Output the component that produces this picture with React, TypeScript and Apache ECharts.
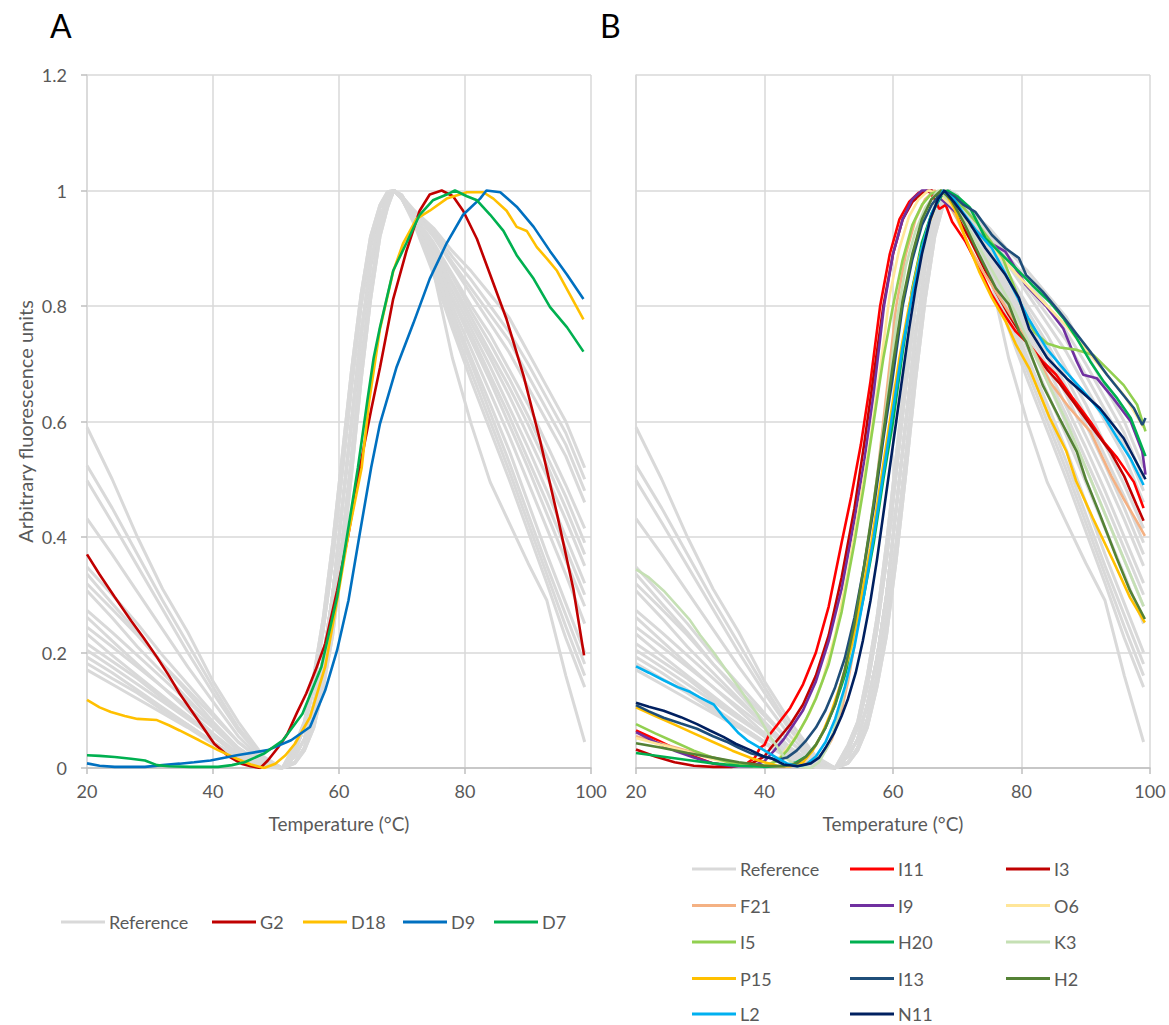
import React, { useEffect, useRef } from 'react';
import * as echarts from 'echarts';

// ---------- DATA ----------
// Shared temperature grid for the grey reference curves (°C)
const REF_X = [20, 24, 28, 32, 36, 40, 44, 48, 51, 53, 54.5, 56, 57.5, 59, 60.5, 62, 63.5, 65, 66.5, 67.7, 68.7, 70, 72, 75, 78, 81, 84, 87, 90, 93, 96, 99];

const REF_1 = [0.59, 0.5, 0.4, 0.31, 0.235, 0.15, 0.08, 0.02, 0, 0.02, 0.05, 0.11, 0.19, 0.3, 0.45, 0.6, 0.75, 0.87, 0.95, 0.99, 1, 0.99, 0.95, 0.89, 0.825, 0.76, 0.695, 0.625, 0.555, 0.48, 0.4, 0.32];
const REF_2 = [0.524, 0.45, 0.37, 0.29, 0.215, 0.14, 0.07, 0.018, 0, 0.01, 0.035, 0.085, 0.16, 0.26, 0.39, 0.54, 0.7, 0.83, 0.93, 0.975, 1, 0.99, 0.955, 0.91, 0.855, 0.8, 0.75, 0.69, 0.63, 0.56, 0.49, 0.415];
const REF_3 = [0.498, 0.425, 0.35, 0.275, 0.2, 0.13, 0.065, 0.015, 0, 0.03, 0.07, 0.14, 0.24, 0.36, 0.51, 0.66, 0.8, 0.9, 0.97, 0.995, 1, 0.985, 0.945, 0.87, 0.79, 0.71, 0.63, 0.55, 0.46, 0.37, 0.285, 0.2];
const REF_4 = [0.432, 0.37, 0.305, 0.24, 0.175, 0.115, 0.055, 0.012, 0, 0.02, 0.05, 0.11, 0.19, 0.3, 0.45, 0.6, 0.75, 0.87, 0.95, 0.99, 1, 0.99, 0.96, 0.93, 0.885, 0.845, 0.8, 0.755, 0.7, 0.64, 0.58, 0.5];
const REF_5 = [0.348, 0.3, 0.25, 0.195, 0.145, 0.095, 0.045, 0.01, 0, 0.008, 0.03, 0.07, 0.14, 0.23, 0.36, 0.51, 0.67, 0.81, 0.92, 0.97, 1, 0.992, 0.95, 0.88, 0.81, 0.74, 0.67, 0.595, 0.52, 0.44, 0.36, 0.28];
const REF_6 = [0.336, 0.285, 0.235, 0.18, 0.13, 0.08, 0.035, 0.005, 0, 0.04, 0.08, 0.16, 0.26, 0.39, 0.54, 0.69, 0.82, 0.92, 0.975, 0.998, 1, 0.985, 0.955, 0.86, 0.71, 0.595, 0.495, 0.425, 0.355, 0.29, 0.16, 0.045];
const REF_7 = [0.319, 0.275, 0.23, 0.18, 0.135, 0.09, 0.045, 0.01, 0, 0.02, 0.05, 0.11, 0.19, 0.3, 0.45, 0.6, 0.75, 0.87, 0.95, 0.99, 1, 0.99, 0.955, 0.9, 0.84, 0.78, 0.72, 0.66, 0.595, 0.525, 0.45, 0.37];
const REF_8 = [0.307, 0.26, 0.21, 0.165, 0.12, 0.075, 0.03, 0.004, 0, 0.01, 0.035, 0.085, 0.16, 0.26, 0.39, 0.54, 0.7, 0.83, 0.93, 0.975, 1, 0.99, 0.965, 0.935, 0.895, 0.86, 0.82, 0.78, 0.72, 0.66, 0.6, 0.52];
const REF_9 = [0.273, 0.235, 0.195, 0.155, 0.115, 0.075, 0.035, 0.006, 0, 0.03, 0.07, 0.14, 0.24, 0.36, 0.51, 0.66, 0.8, 0.9, 0.97, 0.995, 1, 0.985, 0.945, 0.86, 0.77, 0.685, 0.6, 0.515, 0.425, 0.335, 0.245, 0.16];
const REF_10 = [0.261, 0.22, 0.18, 0.14, 0.1, 0.06, 0.025, 0.003, 0, 0.02, 0.05, 0.11, 0.19, 0.3, 0.45, 0.6, 0.75, 0.87, 0.95, 0.99, 1, 0.99, 0.96, 0.92, 0.87, 0.82, 0.77, 0.72, 0.66, 0.6, 0.54, 0.46];
const REF_11 = [0.244, 0.21, 0.175, 0.14, 0.105, 0.07, 0.03, 0.004, 0, 0.008, 0.03, 0.07, 0.14, 0.23, 0.36, 0.51, 0.67, 0.81, 0.92, 0.97, 1, 0.992, 0.95, 0.885, 0.815, 0.75, 0.68, 0.61, 0.535, 0.46, 0.38, 0.3];
const REF_12 = [0.232, 0.195, 0.16, 0.125, 0.09, 0.055, 0.022, 0.002, 0, 0.03, 0.07, 0.14, 0.24, 0.36, 0.51, 0.66, 0.8, 0.9, 0.97, 0.995, 1, 0.985, 0.945, 0.865, 0.78, 0.7, 0.615, 0.53, 0.44, 0.35, 0.265, 0.18];
const REF_13 = [0.215, 0.185, 0.155, 0.12, 0.09, 0.055, 0.02, 0.002, 0, 0.02, 0.05, 0.11, 0.19, 0.3, 0.45, 0.6, 0.75, 0.87, 0.95, 0.99, 1, 0.99, 0.955, 0.905, 0.85, 0.79, 0.735, 0.675, 0.61, 0.54, 0.47, 0.39];
const REF_14 = [0.204, 0.175, 0.145, 0.115, 0.085, 0.055, 0.025, 0.003, 0, 0.01, 0.035, 0.085, 0.16, 0.26, 0.39, 0.54, 0.7, 0.83, 0.93, 0.975, 1, 0.99, 0.95, 0.875, 0.8, 0.725, 0.65, 0.575, 0.495, 0.415, 0.335, 0.25];
const REF_15 = [0.192, 0.165, 0.135, 0.105, 0.075, 0.045, 0.018, 0.002, 0, 0.04, 0.08, 0.16, 0.26, 0.39, 0.54, 0.69, 0.82, 0.92, 0.975, 0.998, 1, 0.985, 0.94, 0.855, 0.76, 0.67, 0.585, 0.5, 0.41, 0.32, 0.225, 0.14];
const REF_16 = [0.181, 0.155, 0.13, 0.1, 0.075, 0.045, 0.015, 0.001, 0, 0.02, 0.05, 0.11, 0.19, 0.3, 0.45, 0.6, 0.75, 0.87, 0.95, 0.99, 1, 0.99, 0.96, 0.925, 0.875, 0.83, 0.785, 0.74, 0.68, 0.62, 0.56, 0.48];
const REF_17 = [0.17, 0.145, 0.12, 0.095, 0.07, 0.042, 0.015, 0.001, 0, 0.01, 0.035, 0.085, 0.16, 0.26, 0.39, 0.54, 0.7, 0.83, 0.93, 0.975, 1, 0.99, 0.95, 0.895, 0.835, 0.77, 0.71, 0.645, 0.575, 0.505, 0.43, 0.35];

const REF_CURVES = [REF_1, REF_2, REF_3, REF_4, REF_5, REF_6, REF_7, REF_8, REF_9, REF_10, REF_11, REF_12, REF_13, REF_14, REF_15, REF_16, REF_17];

// Panel A samples [temperature, fluorescence]
const A_G2 = [[20, 0.37], [22, 0.335], [24.4, 0.296], [27, 0.255], [29, 0.225], [31.1, 0.192], [33, 0.16], [34.7, 0.129], [37.5, 0.085], [40.2, 0.042], [42.5, 0.02], [44.5, 0.0075], [46, 0.003], [47.5, 0], [48.7, 0.013], [50.3, 0.035], [51.8, 0.059], [53.3, 0.095], [54.8, 0.129], [56.3, 0.17], [57.8, 0.215], [59.7, 0.307], [61.5, 0.405], [63.3, 0.52], [65.1, 0.62], [66.5, 0.693], [68.6, 0.812], [70.7, 0.895], [72.8, 0.965], [74.4, 0.993], [76.3, 1], [78.1, 0.99], [79.7, 0.965], [81.9, 0.916], [84, 0.854], [86.6, 0.777], [89.3, 0.679], [91.9, 0.568], [94.6, 0.44], [97.2, 0.31], [98.9, 0.195]];
const A_D18 = [[20, 0.118], [22, 0.105], [23.8, 0.097], [26, 0.09], [28, 0.085], [31.1, 0.083], [33, 0.074], [34.7, 0.065], [37.8, 0.048], [40.8, 0.031], [43.8, 0.016], [46, 0.006], [48.1, 0], [49.9, 0.0075], [51.5, 0.022], [53, 0.042], [55.4, 0.088], [57.8, 0.175], [59.7, 0.29], [61.5, 0.405], [63.6, 0.52], [64.8, 0.636], [66.5, 0.76], [68.6, 0.86], [70.2, 0.909], [72.3, 0.951], [74.4, 0.965], [77.1, 0.986], [80.3, 0.997], [82.9, 0.997], [84.5, 0.986], [86.6, 0.965], [88.2, 0.937], [89.8, 0.93], [91.4, 0.902], [93, 0.882], [94.6, 0.861], [96.7, 0.819], [98.8, 0.777]];
const A_D9 = [[20, 0.008], [22, 0.004], [24.4, 0.002], [29.2, 0.002], [32, 0.005], [34.7, 0.0075], [37, 0.01], [39.6, 0.013], [43.8, 0.022], [48.7, 0.031], [52.4, 0.048], [55.4, 0.071], [57.8, 0.134], [59.7, 0.204], [61.5, 0.29], [63.3, 0.406], [65.1, 0.52], [66.5, 0.596], [69.1, 0.693], [71.8, 0.77], [74.4, 0.847], [77.1, 0.909], [79.7, 0.958], [82.4, 0.986], [83.4, 1], [85.6, 0.997], [88.2, 0.972], [90.9, 0.937], [93.5, 0.895], [96.2, 0.854], [98.8, 0.812]];
const A_D7 = [[20, 0.022], [22, 0.021], [24.4, 0.019], [27, 0.016], [29.2, 0.013], [31.1, 0.005], [33, 0.003], [36.5, 0.002], [40.8, 0.002], [43, 0.005], [45, 0.01], [48.1, 0.025], [51.1, 0.048], [54.2, 0.094], [57.2, 0.175], [59.7, 0.296], [61.5, 0.417], [63, 0.52], [64.5, 0.636], [65.5, 0.71], [66.5, 0.763], [68.6, 0.861], [70.7, 0.909], [72.8, 0.958], [74.9, 0.983], [77.1, 0.993], [78.4, 1], [80.3, 0.99], [81.9, 0.983], [84, 0.958], [86.1, 0.93], [88.2, 0.888], [90.9, 0.847], [93.5, 0.798], [96.2, 0.763], [98.8, 0.721]];

// Panel B samples
const B_I11 = [[20, 0.065], [23, 0.05], [26, 0.034], [29, 0.02], [32, 0.008], [35, 0.003], [37, 0.006], [38.5, 0.018], [39.3, 0.035], [40, 0.04], [40.6, 0.055], [42, 0.075], [44, 0.104], [46, 0.145], [48, 0.2], [50, 0.28], [52, 0.39], [53.5, 0.47], [55, 0.56], [56.5, 0.67], [58, 0.8], [59.5, 0.89], [61, 0.95], [62.5, 0.98], [64, 0.996], [65.5, 1], [66.5, 0.985], [67.2, 0.968], [68.2, 0.975], [69.2, 0.946], [71.3, 0.911], [73.4, 0.866], [75.4, 0.819], [77, 0.79], [79.1, 0.756], [81.2, 0.733], [83.3, 0.704], [85.4, 0.681], [88, 0.64], [90.7, 0.6], [92.8, 0.565], [94.9, 0.537], [97.5, 0.495], [99, 0.45]];
const B_I3 = [[20, 0.032], [23, 0.02], [26, 0.01], [29, 0.004], [32, 0.002], [35, 0.002], [38, 0.008], [40, 0.02], [41, 0.035], [42.5, 0.055], [44, 0.075], [46, 0.11], [48, 0.16], [50, 0.23], [52, 0.33], [54, 0.45], [55.5, 0.56], [57, 0.68], [58.5, 0.8], [60, 0.89], [61.5, 0.95], [63, 0.98], [64.5, 0.995], [66, 1], [68, 0.99], [70, 0.955], [72, 0.915], [74, 0.87], [76, 0.825], [78, 0.785], [80, 0.75], [82, 0.72], [84, 0.69], [86, 0.665], [88, 0.635], [90, 0.605], [92, 0.575], [94, 0.545], [96, 0.505], [97.9, 0.456], [99, 0.428]];
const B_F21 = [[20, 0.055], [24, 0.042], [28, 0.03], [32, 0.018], [36, 0.008], [40, 0.003], [43, 0.002], [46, 0.006], [48, 0.015], [49.5, 0.03], [50.5, 0.05], [52, 0.1], [53, 0.15], [53.8, 0.2], [55, 0.29], [56.3, 0.4], [57.5, 0.5], [58.5, 0.6], [59.5, 0.7], [60.5, 0.8], [62, 0.89], [63.5, 0.95], [65, 0.985], [66.5, 1], [68, 0.99], [70, 0.95], [72, 0.9], [74, 0.86], [76, 0.825], [78, 0.79], [80, 0.755], [82, 0.72], [84.4, 0.669], [87.5, 0.623], [90.7, 0.583], [92.5, 0.54], [94, 0.505], [95.8, 0.468], [97.9, 0.428], [99.2, 0.402]];
const B_I9 = [[20, 0.062], [23, 0.045], [26, 0.03], [29, 0.018], [32, 0.008], [35, 0.003], [38, 0.003], [40, 0.012], [41.5, 0.03], [43, 0.05], [44.5, 0.075], [46, 0.1], [48, 0.15], [50, 0.22], [52, 0.31], [54, 0.43], [55.5, 0.53], [57, 0.65], [58.6, 0.8], [60, 0.89], [61.5, 0.95], [63, 0.985], [64.5, 1], [65.5, 1], [67, 0.99], [69, 0.97], [71, 0.95], [73, 0.93], [75, 0.91], [77.5, 0.894], [80.7, 0.836], [83.8, 0.8], [86.5, 0.761], [88.6, 0.704], [89.6, 0.681], [91.7, 0.675], [94.3, 0.64], [97, 0.6], [98.8, 0.548], [99.3, 0.508]];
const B_O6 = [[20, 0.052], [24, 0.04], [28, 0.028], [32, 0.015], [36, 0.006], [39, 0.003], [41, 0.008], [42.5, 0.02], [44, 0.04], [45.5, 0.065], [47, 0.095], [49, 0.15], [51, 0.23], [53, 0.34], [55, 0.47], [56.5, 0.57], [58, 0.69], [59.5, 0.82], [61, 0.9], [62.5, 0.955], [64, 0.985], [65.5, 1], [67, 0.995], [69, 0.975], [71, 0.95], [73, 0.93], [75, 0.905], [78, 0.87], [81, 0.835], [84, 0.8], [87, 0.765], [90, 0.725], [93, 0.685], [96, 0.645], [99, 0.59]];
const B_I5 = [[20, 0.076], [23, 0.06], [26, 0.045], [29, 0.03], [32, 0.018], [35, 0.008], [38, 0.003], [40, 0.004], [42, 0.012], [43.5, 0.03], [45, 0.055], [46.5, 0.085], [48, 0.12], [50, 0.18], [52, 0.27], [54, 0.39], [55.5, 0.49], [57, 0.6], [58.5, 0.71], [60, 0.8], [61.5, 0.88], [63, 0.94], [64.5, 0.975], [66, 0.995], [67.5, 1], [69, 0.99], [71, 0.97], [73, 0.945], [75, 0.915], [77, 0.885], [79, 0.83], [80.5, 0.785], [82, 0.755], [84, 0.735], [86, 0.728], [88.6, 0.724], [91.2, 0.715], [93.3, 0.692], [95.9, 0.663], [98, 0.629], [99.3, 0.583]];
const B_H20 = [[20, 0.026], [24, 0.02], [28, 0.014], [32, 0.008], [36, 0.004], [40, 0.002], [43, 0.004], [45, 0.01], [46.5, 0.02], [48, 0.04], [49.5, 0.07], [51, 0.11], [52.5, 0.16], [54, 0.22], [55.5, 0.3], [57, 0.39], [58.5, 0.5], [60, 0.6], [61.5, 0.72], [63, 0.83], [64.5, 0.91], [66, 0.96], [67.5, 0.99], [68.5, 1], [70, 0.99], [72, 0.97], [74.4, 0.917], [77.5, 0.883], [79.6, 0.86], [81.7, 0.836], [84.4, 0.807], [86.5, 0.779], [88.6, 0.744], [90.7, 0.704], [92.8, 0.669], [94.9, 0.64], [97, 0.606], [99.3, 0.54]];
const B_K3 = [[20, 0.344], [22, 0.33], [24.3, 0.307], [26.5, 0.28], [28.4, 0.256], [30, 0.23], [32.1, 0.2], [34, 0.17], [35.7, 0.144], [37.5, 0.115], [38.9, 0.093], [40.9, 0.054], [43, 0.02], [45.1, 0.003], [47.2, 0], [48.5, 0.01], [50, 0.04], [51.5, 0.09], [53, 0.16], [54.5, 0.26], [56, 0.38], [57.5, 0.5], [59, 0.63], [60.5, 0.77], [62, 0.87], [63.5, 0.93], [65, 0.97], [67, 1], [69, 0.98], [71, 0.95], [73, 0.91], [75, 0.87], [77, 0.83], [79, 0.79], [81, 0.74], [84, 0.67], [87, 0.6], [90, 0.52], [93, 0.44], [96, 0.36], [99, 0.28]];
const B_P15 = [[20, 0.105], [23, 0.09], [26, 0.075], [29, 0.06], [32, 0.045], [35, 0.03], [38, 0.017], [40, 0.01], [42, 0.004], [44, 0.003], [46, 0.01], [47.5, 0.03], [49, 0.06], [50.5, 0.1], [52, 0.15], [53.5, 0.21], [55, 0.29], [56.5, 0.38], [58, 0.49], [59.5, 0.6], [61, 0.71], [62.5, 0.8], [64, 0.88], [65.5, 0.94], [67, 0.985], [68, 1], [69.5, 0.97], [71.3, 0.917], [73.4, 0.86], [75.4, 0.814], [77.5, 0.774], [79.1, 0.734], [81.2, 0.692], [84.4, 0.606], [87, 0.548], [88.5, 0.497], [91.1, 0.433], [94.3, 0.358], [96.9, 0.295], [99.2, 0.252]];
const B_I13 = [[20, 0.109], [22, 0.098], [24.3, 0.087], [27, 0.077], [29.5, 0.068], [32, 0.055], [34, 0.046], [36, 0.035], [38, 0.025], [40, 0.02], [42, 0.014], [43.5, 0.018], [45, 0.03], [46.5, 0.048], [48, 0.07], [49.5, 0.1], [51, 0.14], [52.5, 0.19], [54, 0.26], [55.5, 0.35], [57, 0.45], [58.5, 0.57], [60, 0.68], [61.5, 0.8], [63, 0.88], [64.5, 0.94], [66, 0.975], [67.8, 1], [69.5, 0.99], [71, 0.975], [72.8, 0.963], [75.4, 0.923], [77.5, 0.9], [79.6, 0.883], [80.7, 0.854], [83.3, 0.825], [85.9, 0.79], [87.5, 0.767], [90.7, 0.721], [93.3, 0.681], [95.4, 0.652], [97.5, 0.623], [98.8, 0.594], [99.3, 0.606]];
const B_H2 = [[20, 0.043], [24, 0.035], [28, 0.026], [32, 0.018], [36, 0.01], [40, 0.004], [43, 0.003], [45, 0.008], [46.5, 0.02], [48, 0.04], [49.5, 0.07], [51, 0.11], [52.5, 0.17], [54, 0.25], [55.5, 0.35], [57, 0.46], [58.5, 0.58], [60, 0.7], [61.5, 0.81], [63, 0.89], [64.5, 0.95], [66, 0.985], [67.5, 1], [69, 0.985], [71, 0.945], [73.4, 0.889], [76, 0.831], [78, 0.803], [79.6, 0.757], [80.7, 0.738], [83.3, 0.663], [85.9, 0.606], [88.6, 0.548], [90, 0.5], [92.2, 0.439], [94.8, 0.364], [96.9, 0.307], [99.2, 0.258]];
const B_L2 = [[20, 0.176], [22, 0.165], [24.3, 0.152], [26.5, 0.14], [28.4, 0.132], [30, 0.122], [32.1, 0.11], [33.5, 0.09], [34.7, 0.076], [36, 0.06], [37.3, 0.048], [39.9, 0.031], [42, 0.017], [43.5, 0.008], [45.1, 0.003], [46.5, 0.006], [48, 0.02], [49.5, 0.045], [51, 0.085], [52.5, 0.14], [54, 0.21], [55.5, 0.3], [57, 0.4], [58.5, 0.51], [60, 0.62], [61.5, 0.73], [63, 0.82], [64.5, 0.9], [66, 0.96], [67.8, 1], [69.5, 0.985], [71, 0.96], [73, 0.93], [75.4, 0.9], [78, 0.845], [81, 0.78], [84, 0.725], [87, 0.685], [90, 0.648], [92.8, 0.61], [95, 0.57], [97, 0.535], [99, 0.49]];
const B_N11 = [[20, 0.113], [22, 0.106], [24.3, 0.099], [27, 0.088], [29.5, 0.076], [31.5, 0.065], [33.6, 0.054], [35.5, 0.042], [37.8, 0.031], [40, 0.019], [41, 0.017], [43, 0.006], [45.1, 0.003], [47.2, 0.008], [48.5, 0.018], [49.5, 0.035], [50.8, 0.06], [52, 0.09], [53, 0.12], [54.2, 0.165], [55.3, 0.22], [56.5, 0.29], [57.5, 0.36], [58.5, 0.44], [59.5, 0.52], [60.5, 0.6], [61.5, 0.68], [62.5, 0.76], [63.5, 0.83], [64.5, 0.89], [65.8, 0.95], [67, 0.985], [68, 1], [69.5, 0.98], [71.8, 0.946], [74.4, 0.9], [77.5, 0.854], [79.6, 0.814], [81.2, 0.76], [84, 0.71], [87, 0.675], [90, 0.645], [92.2, 0.623], [95.9, 0.571], [99.3, 0.5]];

const A_NAMES = ['G2', 'D18', 'D9', 'D7'];
const A_COLORS = ['#C00000', '#FFC000', '#0070C0', '#00B050'];
const A_DATA = [A_G2, A_D18, A_D9, A_D7];

const B_NAMES = ['I11', 'I3', 'F21', 'I9', 'O6', 'I5', 'H20', 'K3', 'P15', 'I13', 'H2', 'L2', 'N11'];
const B_COLORS = ['#FF0000', '#C00000', '#F4B183', '#7030A0', '#FFE699', '#92D050', '#00B050', '#C5E0B4', '#FFC000', '#1F4E79', '#548235', '#00B0F0', '#002060'];
const B_DATA = [B_I11, B_I3, B_F21, B_I9, B_O6, B_I5, B_H20, B_K3, B_P15, B_I13, B_H2, B_L2, B_N11];

const Y_TICKS = [0, 0.2, 0.4, 0.6, 0.8, 1, 1.2];

// ---------- STYLE / LAYOUT ----------
const FONT = 'Lato, "Open Sans", sans-serif';
const TXT = '#595959';
const GRIDC = '#D9D9D9';
const REFC = '#D9D9D9';

// legend placements (left of icon, vertical centre)
const LEG_A = [['Reference', 61], ['G2', 212], ['D18', 303], ['D9', 403], ['D7', 494]];
const LEG_A_Y = 922;
const LEG_B_COLS = [692, 850, 1006];
const LEG_B_ROWS = [869, 905.5, 942, 978.5, 1014];
const LEG_B_ORDER = ['Reference', 'I11', 'I3', 'F21', 'I9', 'O6', 'I5', 'H20', 'K3', 'P15', 'I13', 'H2', 'L2', 'N11'];

export default function App() {
  const ref = useRef<HTMLDivElement>(null);
  useEffect(() => {
    const chart = echarts.init(ref.current as HTMLDivElement, null, { renderer: 'svg' });

    const refSeries = (gi: number) =>
      REF_CURVES.map((ys) => ({
        type: 'line',
        name: 'Reference',
        xAxisIndex: gi,
        yAxisIndex: gi,
        data: REF_X.map((x, i) => [x, ys[i]]),
        symbol: 'none',
        color: REFC,
        lineStyle: { width: 3, color: REFC },
        silent: true,
        z: 2,
      }));

    const colSeries = (gi: number, names: string[], colors: string[], data: number[][][]) =>
      names.map((n, k) => ({
        type: 'line',
        name: n,
        xAxisIndex: gi,
        yAxisIndex: gi,
        data: data[k],
        symbol: 'none',
        color: colors[k],
        lineStyle: { width: 2.6, color: colors[k] },
        silent: true,
        z: 3,
      }));

    const xAxis = (gi: number) => ({
      type: 'value',
      gridIndex: gi,
      min: 20,
      max: 100,
      interval: 20,
      name: 'Temperature (°C)',
      nameLocation: 'middle',
      nameGap: 46,
      nameTextStyle: { fontSize: 19, color: TXT, fontFamily: FONT },
      axisLine: { show: true, lineStyle: { color: '#BFBFBF', width: 1.5 } },
      axisTick: { show: true, length: 6, lineStyle: { color: '#BFBFBF', width: 1.5 } },
      axisLabel: { fontSize: 18, color: TXT, fontFamily: FONT, margin: 14 },
      splitLine: { show: true, lineStyle: { color: GRIDC, width: 1.5 } },
    });

    const yAxis = (gi: number) => ({
      type: 'value',
      gridIndex: gi,
      min: 0,
      max: 1.2,
      interval: 0.2,
      name: gi === 0 ? 'Arbitrary fluorescence units' : '',
      nameLocation: 'middle',
      nameGap: 52,
      nameTextStyle: { fontSize: 20, color: TXT, fontFamily: FONT },
      axisLine: { show: true, lineStyle: { color: GRIDC, width: 1.5 } },
      axisTick: { show: gi === 0, length: 6, lineStyle: { color: '#BFBFBF', width: 1.5 } },
      axisLabel: {
        show: gi === 0,
        fontSize: 18,
        color: TXT,
        fontFamily: FONT,
        margin: 20,
        formatter: (v: number) => {
          const t = Y_TICKS.find((q) => Math.abs(q - v) < 1e-6);
          return String(t !== undefined ? t : Math.round(v * 10) / 10);
        },
      },
      splitLine: { show: true, lineStyle: { color: GRIDC, width: 1.5 } },
    });

    const mkLegend = (name: string, left: number, cy: number) => ({
      data: [name],
      left,
      top: cy - 9,
      padding: 0,
      itemGap: 0,
      itemWidth: 44,
      itemHeight: 3,
      icon: 'rect',
      selectedMode: false,
      textStyle: { fontSize: 18, color: TXT, fontFamily: FONT, lineHeight: 18, padding: [0, 0, 0, -1] },
    });

    const legends: any[] = [];
    LEG_A.forEach(([n, x]) => legends.push(mkLegend(n as string, x as number, LEG_A_Y)));
    LEG_B_ORDER.forEach((n, i) => {
      const r = Math.floor(i / 3);
      const c = i % 3;
      legends.push(mkLegend(n, LEG_B_COLS[c], LEG_B_ROWS[r]));
    });

    chart.setOption({
      animation: false,
      backgroundColor: '#ffffff',
      grid: [
        { left: 87, top: 75, width: 504, height: 693 },
        { left: 636, top: 75, width: 514, height: 693 },
      ],
      xAxis: [xAxis(0), xAxis(1)],
      yAxis: [yAxis(0), yAxis(1)],
      legend: legends,
      graphic: [
        { type: 'text', left: 50, top: 9, style: { text: 'A', fontSize: 32, fontFamily: FONT, fill: '#000000' } },
        { type: 'text', left: 600, top: 9, style: { text: 'B', fontSize: 32, fontFamily: FONT, fill: '#000000' } },
      ],
      series: [
        ...refSeries(0),
        ...colSeries(0, A_NAMES, A_COLORS, A_DATA),
        ...refSeries(1),
        ...colSeries(1, B_NAMES, B_COLORS, B_DATA),
      ],
    });

    return () => chart.dispose();
  }, []);

  return <div ref={ref} style={{ position: 'absolute', left: 0, top: 0, width: 1169, height: 1025 }} />;
}
